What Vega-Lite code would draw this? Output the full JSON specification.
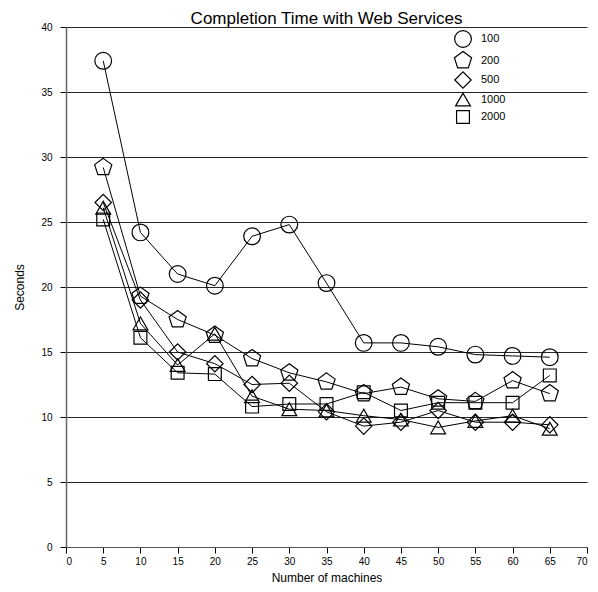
{
  "$schema": "https://vega.github.io/schema/vega-lite/v6.json",
  "autosize": "none",
  "width": 521,
  "height": 520,
  "padding": {"left": 66, "top": 27, "right": 11, "bottom": 45},
  "background": "white",
  "config": {
    "font": "Liberation Sans",
    "view": {"stroke": null},
    "axis": {"labelFont": "Liberation Sans", "titleFont": "Liberation Sans", "labelColor": "black", "titleColor": "black", "titleFontWeight": "normal", "labelFontSize": 10, "titleFontSize": 12},
    "legend": {"orient": "none", "legendX": 388, "legendY": 3, "padding": 0, "rowPadding": -1.5, "labelFontSize": 11, "labelFont": "Liberation Sans", "labelColor": "#000000", "labelOffset": 9, "symbolStrokeColor": "black", "symbolStrokeWidth": 1.2, "symbolFillColor": "transparent", "titlePadding": 0}
  },
  "title": {"text": "Completion Time with Web Services", "fontSize": 17, "fontWeight": "normal", "font": "Liberation Sans", "anchor": "middle", "offset": -6, "color": "black"},
  "data": {"values": [
    {"n": 5, "s": 37.4, "series": "100"}, {"n": 10, "s": 24.2, "series": "100"}, {"n": 15, "s": 21.0, "series": "100"}, {"n": 20, "s": 20.1, "series": "100"}, {"n": 25, "s": 23.9, "series": "100"}, {"n": 30, "s": 24.8, "series": "100"}, {"n": 35, "s": 20.3, "series": "100"}, {"n": 40, "s": 15.7, "series": "100"}, {"n": 45, "s": 15.7, "series": "100"}, {"n": 50, "s": 15.4, "series": "100"}, {"n": 55, "s": 14.8, "series": "100"}, {"n": 60, "s": 14.7, "series": "100"}, {"n": 65, "s": 14.6, "series": "100"},
    {"n": 5, "s": 29.2, "series": "200"}, {"n": 10, "s": 19.3, "series": "200"}, {"n": 15, "s": 17.5, "series": "200"}, {"n": 20, "s": 16.3, "series": "200"}, {"n": 25, "s": 14.5, "series": "200"}, {"n": 30, "s": 13.4, "series": "200"}, {"n": 35, "s": 12.7, "series": "200"}, {"n": 40, "s": 11.8, "series": "200"}, {"n": 45, "s": 12.3, "series": "200"}, {"n": 50, "s": 11.4, "series": "200"}, {"n": 55, "s": 11.2, "series": "200"}, {"n": 60, "s": 12.8, "series": "200"}, {"n": 65, "s": 11.8, "series": "200"},
    {"n": 5, "s": 26.5, "series": "500"}, {"n": 10, "s": 19.0, "series": "500"}, {"n": 15, "s": 15.0, "series": "500"}, {"n": 20, "s": 14.1, "series": "500"}, {"n": 25, "s": 12.5, "series": "500"}, {"n": 30, "s": 12.6, "series": "500"}, {"n": 35, "s": 10.4, "series": "500"}, {"n": 40, "s": 9.3, "series": "500"}, {"n": 45, "s": 9.6, "series": "500"}, {"n": 50, "s": 10.5, "series": "500"}, {"n": 55, "s": 9.6, "series": "500"}, {"n": 60, "s": 9.6, "series": "500"}, {"n": 65, "s": 9.4, "series": "500"},
    {"n": 5, "s": 26.1, "series": "1000"}, {"n": 10, "s": 17.2, "series": "1000"}, {"n": 15, "s": 14.0, "series": "1000"}, {"n": 20, "s": 16.4, "series": "1000"}, {"n": 25, "s": 11.6, "series": "1000"}, {"n": 30, "s": 10.6, "series": "1000"}, {"n": 35, "s": 10.5, "series": "1000"}, {"n": 40, "s": 10.1, "series": "1000"}, {"n": 45, "s": 9.8, "series": "1000"}, {"n": 50, "s": 9.2, "series": "1000"}, {"n": 55, "s": 9.7, "series": "1000"}, {"n": 60, "s": 10.1, "series": "1000"}, {"n": 65, "s": 9.1, "series": "1000"},
    {"n": 5, "s": 25.2, "series": "2000"}, {"n": 10, "s": 16.1, "series": "2000"}, {"n": 15, "s": 13.4, "series": "2000"}, {"n": 20, "s": 13.3, "series": "2000"}, {"n": 25, "s": 10.8, "series": "2000"}, {"n": 30, "s": 11.0, "series": "2000"}, {"n": 35, "s": 11.0, "series": "2000"}, {"n": 40, "s": 11.9, "series": "2000"}, {"n": 45, "s": 10.5, "series": "2000"}, {"n": 50, "s": 11.1, "series": "2000"}, {"n": 55, "s": 11.1, "series": "2000"}, {"n": 60, "s": 11.1, "series": "2000"}, {"n": 65, "s": 13.2, "series": "2000"}
  ]},
  "encoding": {
    "x": {"field": "n", "type": "quantitative", "title": "Number of machines",
      "scale": {"domain": [0, 70], "nice": false, "zero": false},
      "axis": {"values": [0,5,10,15,20,25,30,35,40,45,50,55,60,65,70], "grid": false, "domainColor": "#555555", "tickColor": "black", "tickSize": 6, "labelPadding": 3, "titlePadding": 6}},
    "y": {"field": "s", "type": "quantitative", "title": "Seconds",
      "scale": {"domain": [0, 40], "nice": false},
      "axis": {"values": [0,5,10,15,20,25,30,35,40], "grid": true, "gridColor": "black", "gridOpacity": 0.85, "domainColor": "#666666", "domainWidth": 1.5, "tickColor": "black", "tickSize": 6, "labelPadding": 8, "titlePadding": 14}}
  },
  "layer": [
    {"mark": {"type": "line", "color": "black", "strokeWidth": 1},
     "encoding": {"detail": {"field": "series", "type": "nominal"}, "order": {"field": "n", "type": "quantitative"}}},
    {"mark": {"type": "point", "filled": false, "stroke": "black", "strokeWidth": 1.2, "opacity": 1},
     "encoding": {
       "shape": {"field": "series", "type": "nominal", "title": null,
         "scale": {"domain": ["100", "200", "500", "1000", "2000"], "range": ["circle", "M0,-1.08L1.027,-0.334L0.635,0.874L-0.635,0.874L-1.027,-0.334Z", "diamond", "triangle-up", "square"]},
         "legend": {"labelColor": "#000000"}},
       "size": {"field": "series", "type": "nominal", "title": null,
         "scale": {"type": "ordinal", "domain": ["100", "200", "500", "1000", "2000"], "range": [280, 280, 270, 220, 165]},
         "legend": {"labelColor": "#000000"}}
     }}
  ]
}
